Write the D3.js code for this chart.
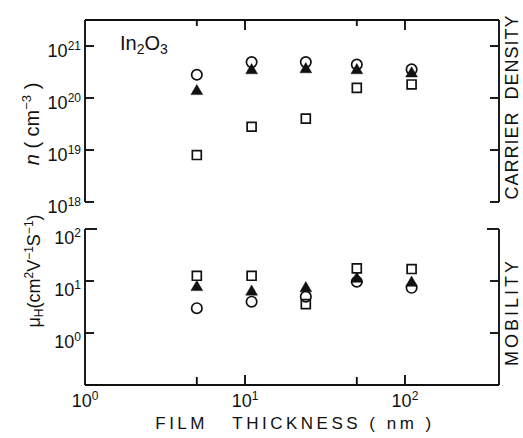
<!DOCTYPE html>
<html>
<head>
<meta charset="utf-8">
<script src="https://cdn.jsdelivr.net/npm/d3@7"></script>
<style>
  body { margin: 0; background: #fff; }
  svg { font-family: "Liberation Sans", Arial, sans-serif; }
</style>
</head>
<body>
<svg id="chart" width="523" height="438"></svg>
<script>
// film thickness (nm)
var thickness = [5, 11, 24, 50, 110];

// carrier density n (cm^-3)
var nCircle   = [2.8e20, 4.9e20, 4.9e20, 4.4e20, 3.55e20];
var nTriangle = [1.35e20, 3.4e20, 3.55e20, 3.4e20, 2.95e20];
var nSquare   = [8.0e18, 2.8e19, 4.0e19, 1.57e20, 1.82e20];

// Hall mobility (cm^2 V^-1 s^-1)
var muCircle   = [3.0, 4.0, 5.0, 9.7, 7.4];
var muTriangle = [7.6, 6.2, 7.2, 11, 9.2];
var muSquare   = [12.6, 12.6, 3.6, 17.5, 17];

var nTicks = [1e18, 1e19, 1e20, 1e21];
var muTicks = [1, 10, 100];
var xTicks = [1, 10, 100];
var xMinorTicks = [5, 50];

var svg = d3.select("#chart");
var ink = "#111";

var x = d3.scaleLog().domain([1, 387]).range([85, 499]);
var yN = d3.scaleLog().domain([1e18, Math.pow(10, 21.5)]).range([202, 20]);
var yMu = d3.scaleLog().domain([0.1, 100]).range([385, 229]);

function line(g, x1, y1, x2, y2) {
    g.append("line")
        .attr("x1", x1).attr("y1", y1).attr("x2", x2).attr("y2", y2)
        .attr("stroke", ink).attr("stroke-width", 1.9);
}

// "10" with a superscript exponent
function powText(g, px, py, exp, anchor) {
    var t = g.append("text")
        .attr("x", px).attr("y", py)
        .attr("text-anchor", anchor)
        .attr("fill", ink)
        .style("font-size", "18px");
    t.append("tspan").text("10");
    t.append("tspan").attr("dy", -7).style("font-size", "12px").text(exp);
}

var frame = svg.append("g");

// ---- top panel (carrier density) ----
var xl = x.range()[0], xr = x.range()[1];
line(frame, xl, yN.range()[1], xr, yN.range()[1]);
line(frame, xl, yN.range()[1], xl, yN.range()[0]);
line(frame, xr, yN.range()[1], xr, yN.range()[0]);
nTicks.forEach(function(d) {
    line(frame, xl, yN(d), xl + 9, yN(d));
    line(frame, xr, yN(d), xr - 9, yN(d));
    powText(frame, 81, yN(d) + 11, Math.round(Math.log10(d)), "end");
});
xTicks.slice(1).forEach(function(d) { line(frame, x(d), yN.range()[1], x(d), yN.range()[1] + 10); });
xMinorTicks.forEach(function(d) { line(frame, x(d), yN.range()[1], x(d), yN.range()[1] + 6); });

// ---- bottom panel (mobility) ----
line(frame, xl, yMu.range()[0], xr, yMu.range()[0]);
line(frame, xl, yMu.range()[1], xl, yMu.range()[0]);
line(frame, xr, yMu.range()[1], xr, yMu.range()[0]);
muTicks.forEach(function(d) {
    var len = d === 100 ? 12 : 9;
    line(frame, xl, yMu(d), xl + len, yMu(d));
    line(frame, xr, yMu(d), xr - len, yMu(d));
    powText(frame, 81, yMu(d) + 15, Math.round(Math.log10(d)), "end");
});
xTicks.forEach(function(d) {
    if (d > 1) line(frame, x(d), yMu.range()[0], x(d), yMu.range()[0] - 10);
    powText(frame, x(d), 407, Math.round(Math.log10(d)), "middle");
});
xMinorTicks.forEach(function(d) { line(frame, x(d), yMu.range()[0], x(d), yMu.range()[0] - 8); });

// ---- markers ----
var circleSym = d3.symbol().type(d3.symbolCircle).size(85);
var squareSym = d3.symbol().type(d3.symbolSquare).size(80);
var triSym = d3.symbol().type(d3.symbolTriangle).size(60);

function series(values, yScale, sym, filled) {
    svg.append("g")
        .selectAll("path")
        .data(values)
        .enter()
        .append("path")
        .attr("d", sym)
        .attr("transform", function(d, i) { return "translate(" + x(thickness[i]) + "," + yScale(d) + ")"; })
        .attr("fill", filled ? ink : "none")
        .attr("stroke", ink)
        .attr("stroke-width", filled ? 0.5 : 1.7);
}

series(nSquare, yN, squareSym, false);
series(nCircle, yN, circleSym, false);
series(nTriangle, yN, triSym, true);

series(muSquare, yMu, squareSym, false);
series(muCircle, yMu, circleSym, false);
series(muTriangle, yMu, triSym, true);

// ---- texts ----
var formula = svg.append("text").attr("x", 120).attr("y", 50).attr("fill", ink).style("font-size", "20px");
formula.append("tspan").text("In");
formula.append("tspan").attr("dy", 4).style("font-size", "14px").text("2");
formula.append("tspan").attr("dy", -4).text("O");
formula.append("tspan").attr("dy", 4).style("font-size", "14px").text("3");

svg.append("text")
    .attr("x", 295).attr("y", 429)
    .attr("text-anchor", "middle")
    .attr("fill", ink)
    .style("font-size", "17px")
    .style("letter-spacing", "3.5px")
    .style("white-space", "pre")
    .text("FILM   THICKNESS ( nm )");

var yl1 = svg.append("text")
    .attr("transform", "translate(39,124) rotate(-90)")
    .attr("text-anchor", "middle")
    .attr("fill", ink)
    .style("font-size", "20px")
    .style("white-space", "pre");
yl1.append("tspan").style("font-style", "italic").text("n");
yl1.append("tspan").text(" ( cm");
yl1.append("tspan").attr("dy", -8).style("font-size", "13px").text("\u22123");
yl1.append("tspan").attr("dy", 8).text(" )");

var yl2 = svg.append("text")
    .attr("transform", "translate(40,271) rotate(-90)")
    .attr("text-anchor", "middle")
    .attr("fill", ink)
    .style("font-size", "18px");
yl2.append("tspan").text("\u03bc");
yl2.append("tspan").attr("dy", 3).style("font-size", "12px").text("H");
yl2.append("tspan").attr("dy", -3).text("(cm");
yl2.append("tspan").attr("dy", -7).style("font-size", "12px").text("2");
yl2.append("tspan").attr("dy", 7).text("V");
yl2.append("tspan").attr("dy", -7).style("font-size", "12px").text("\u22121");
yl2.append("tspan").attr("dy", 7).text("S");
yl2.append("tspan").attr("dy", -7).style("font-size", "12px").text("\u22121");
yl2.append("tspan").attr("dy", 7).text(")");

svg.append("text")
    .attr("transform", "translate(518,107) rotate(-90)")
    .attr("text-anchor", "middle")
    .attr("fill", ink)
    .style("font-size", "18px")
    .style("letter-spacing", "1px")
    .style("white-space", "pre")
    .text("CARRIER  DENSITY");

svg.append("text")
    .attr("transform", "translate(518,312) rotate(-90)")
    .attr("text-anchor", "middle")
    .attr("fill", ink)
    .style("font-size", "18px")
    .style("letter-spacing", "3px")
    .text("MOBILITY");
</script>
</body>
</html>
